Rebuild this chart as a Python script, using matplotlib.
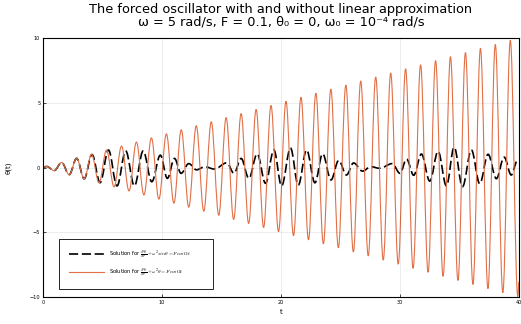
import matplotlib
matplotlib.use('Agg')
import matplotlib.pyplot as plt
from matplotlib.path import Path
from matplotlib.patches import PathPatch
from matplotlib.lines import Line2D

plt.rcParams['mathtext.fontset'] = 'cm'

# extrema (time in s, angle in rad)
t_linear = [0.0, 0.31, 0.94, 1.57, 2.20, 2.83, 3.46, 4.08, 4.71, 5.34, 5.97, 6.60, 7.23, 7.85,
            8.48, 9.11, 9.74, 10.37, 11.00, 11.62, 12.25, 12.88, 13.51, 14.14, 14.77, 15.39,
            16.02, 16.65, 17.28, 17.91, 18.54, 19.16, 19.79, 20.42, 21.05, 21.68, 22.31, 22.93,
            23.56, 24.19, 24.82, 25.45, 26.08, 26.70, 27.33, 27.96, 28.59, 29.22, 29.85, 30.47,
            31.10, 31.73, 32.36, 32.99, 33.62, 34.24, 34.87, 35.50, 36.13, 36.76, 37.39, 38.01,
            38.64, 39.27, 39.90, 40.0]
theta_linear = [0.0, 0.08, -0.24, 0.39, -0.55, 0.71, -0.87, 1.02, -1.18, 1.34, -1.49, 1.65,
                -1.81, 1.96, -2.12, 2.28, -2.44, 2.59, -2.75, 2.91, -3.06, 3.22, -3.38, 3.53,
                -3.69, 3.85, -4.01, 4.16, -4.32, 4.48, -4.63, 4.79, -4.95, 5.11, -5.26, 5.42,
                -5.58, 5.73, -5.89, 6.05, -6.20, 6.36, -6.52, 6.68, -6.83, 6.99, -7.15, 7.30,
                -7.46, 7.62, -7.78, 7.93, -8.09, 8.25, -8.40, 8.56, -8.72, 8.87, -9.03, 9.19,
                -9.35, 9.50, -9.66, 9.82, -9.97, -8.8]

t_sine = [0.0, 0.31, 0.94, 1.57, 2.20, 2.83, 3.46, 4.12, 4.80, 5.50, 6.22, 6.95, 7.68, 8.42,
          9.14, 9.86, 10.45, 11.05, 11.6, 12.25, 12.9, 13.6, 14.4, 15.45, 16.05, 16.65, 17.3,
          18.0, 18.7, 19.4, 20.05, 20.8, 21.45, 22.15, 22.85, 23.5, 24.2, 24.85, 25.5, 26.1,
          26.85, 27.55, 28.3, 29.35, 30.0, 30.55, 31.15, 31.8, 32.5, 33.2, 33.9, 34.55, 35.25,
          36.0, 36.7, 37.4, 38.1, 38.75, 39.35, 39.85, 40.0]
theta_sine = [0.0, 0.08, -0.24, 0.39, -0.55, 0.71, -0.87, 1.00, -1.17, 1.35, -1.42, 1.28,
              -1.42, 1.28, -1.10, 0.95, -0.84, 0.70, -0.45, 0.30, -0.18, 0.06, -0.12, 0.36,
              -0.45, 0.70, -0.84, 1.05, -1.22, 1.35, -1.42, 1.50, -1.36, 1.35, -1.18, 1.06,
              -0.96, 0.55, -0.58, 0.35, -0.28, 0.06, -0.06, 0.30, -0.45, 0.65, -0.60, 1.04,
              -1.05, 1.25, -1.42, 1.57, -1.48, 1.35, -1.25, 1.02, -0.86, 0.80, -0.58, 0.50, 0.45]

x_ticks = [0, 10, 20, 30, 40]
y_ticks = [-10, -5, 0, 5, 10]
y_ticklabels = ['\u221210', '\u22125', '0', '5', '10']

label_sine = r'Solution for $\frac{d^2\theta}{dt^2} + \omega^2 sin\theta = Fcos\Omega t$'
label_linear = r'Solution for $\frac{d^2\theta}{dt^2} + \omega^2\theta = Fcos\Omega t$'
title = ('The forced oscillator with and without linear approximation\n'
         '\u03c9 = 5 rad/s, F = 0.1, \u03b8\u2080 = 0, \u03c9\u2080 = 10\u207b\u2074 rad/s')


def smooth_path(ts, ys, k=0.3634):
    # cubic segments with flat tangents at each extremum
    verts = [(ts[0], ys[0])]
    codes = [Path.MOVETO]
    for i in range(len(ts) - 1):
        d = ts[i + 1] - ts[i]
        verts += [(ts[i] + k * d, ys[i]), (ts[i + 1] - k * d, ys[i + 1]), (ts[i + 1], ys[i + 1])]
        codes += [Path.CURVE4] * 3
    return Path(verts, codes)


orange = '#e26f46'
dash = (0, (5.5, 2.2))

fig = plt.figure(figsize=(5.21, 3.24), dpi=100)
ax = fig.add_axes([43 / 521, 27 / 324, 476 / 521, 259 / 324])

ax.add_patch(PathPatch(smooth_path(t_sine, theta_sine), fill=False, edgecolor='black',
                       lw=1.2, linestyle=dash))
ax.add_patch(PathPatch(smooth_path(t_linear, theta_linear), fill=False, edgecolor=orange,
                       lw=0.8))

ax.set_xlim(0, 40)
ax.set_ylim(-10, 10)
ax.set_xticks(x_ticks)
ax.set_yticks(y_ticks)
ax.set_yticklabels(y_ticklabels)
ax.tick_params(labelsize=3.6, length=2, width=0.5, direction='in', pad=2)
ax.grid(True, color='black', alpha=0.1, lw=0.5)
for sp in ax.spines.values():
    sp.set_linewidth(0.8)

ax.set_xlabel('t', fontsize=5, labelpad=3)
ax.set_ylabel('\u03b8(t)', fontsize=5, labelpad=13)
ax.set_title(title, fontsize=9.3, linespacing=0.95, pad=9)

handles = [Line2D([], [], color='black', lw=1.2, linestyle=dash),
           Line2D([], [], color=orange, lw=0.8)]
leg = ax.legend(handles, [label_sine, label_linear], loc='lower left',
                bbox_to_anchor=(16 / 476, 8 / 259, 154 / 476, 0.2), mode='expand',
                borderaxespad=0, fontsize=3.7, handlelength=6.8, handletextpad=1.0,
                labelspacing=1.1, borderpad=1.9, fancybox=False, framealpha=1)
leg.get_frame().set_edgecolor('black')
leg.get_frame().set_linewidth(0.6)

fig.savefig('out.png', dpi=100)
